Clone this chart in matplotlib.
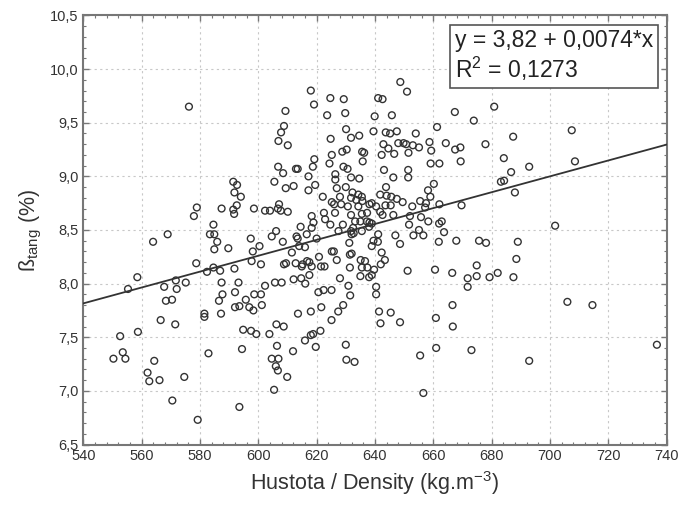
import matplotlib
matplotlib.use("Agg")
import matplotlib.pyplot as plt
from matplotlib.ticker import MultipleLocator, FuncFormatter

plt.rcParams['font.family'] = ['Liberation Sans', 'DejaVu Sans']
plt.rcParams['mathtext.fontset'] = 'custom'
plt.rcParams['mathtext.rm'] = 'Liberation Sans'
plt.rcParams['mathtext.it'] = 'Liberation Sans:italic'

# density (kg.m-3) and tangential shrinkage (%)
density = [
    576.2,
    618.0, 624.7, 629.3, 619.1, 609.3, 623.6, 629.8, 608.8, 607.8, 630.1,
    606.9, 610.1, 624.8, 631.8, 634.6, 625.2, 628.8, 630.3, 635.6, 636.3,
    639.9, 639.5, 648.7, 651.0, 641.1, 642.6, 645.8, 643.7, 645.2, 647.5,
    654.0, 661.3, 667.4, 673.9, 680.9, 687.4, 642.9, 644.6, 648.0, 649.8,
    650.7, 653.0, 655.1, 658.7, 659.3, 664.3, 667.5, 669.3, 677.9, 642.3,
    646.6, 651.5,
    707.5,
    578.9, 577.9, 584.6, 583.4, 584.9, 585.9, 584.9, 568.9, 563.9, 578.7,
    584.6, 582.4, 558.5, 555.3, 567.7, 571.7, 572.0, 575.1, 568.3, 570.4,
    581.5, 581.5, 566.5, 571.5, 558.7, 552.6, 553.5, 550.3, 554.4, 564.3,
    562.0, 562.6, 566.1, 574.6, 582.9, 570.5, 579.2,
    586.5, 587.2, 592.0, 593.5, 595.7, 596.9, 598.3, 601.2, 594.8, 597.5,
    599.3, 594.4, 603.8, 606.2, 608.7, 606.4, 604.6, 606.9, 606.0, 606.7,
    609.9, 611.9, 605.4, 593.5, 613.6, 618.0, 621.6, 625.1, 627.4, 629.1,
    616.0, 618.0, 618.8, 621.3, 619.7, 630.0, 630.2, 633.0,
    641.4, 645.4, 641.9, 648.6, 660.9, 666.6, 666.7, 655.5, 661.0, 673.1,
    656.6,
    706.0, 714.6, 736.7, 692.9,
    692.9, 708.6, 701.8,
    684.2, 669.4, 659.1, 662.1, 643.1, 651.4, 651.4, 646.3, 686.7, 683.2,
    684.3, 688.0, 660.2, 658.2, 643.8, 641.8, 644.0, 645.6, 647.5, 649.5,
    659.0, 657.5, 655.5, 652.8, 662.1, 669.7, 638.9, 640.4, 641.8, 643.6,
    645.4, 642.6, 646.3, 652.0, 655.8, 657.2, 658.3, 651.7, 662.0, 662.9,
    663.7, 655.1, 653.2, 656.6, 647.0, 648.6, 641.1, 638.9, 661.9, 667.9,
    675.7, 678.1, 689.0, 688.5, 639.5, 641.0, 638.9, 642.3, 643.4, 642.0,
    639.7, 651.2, 660.6, 666.5, 674.9, 671.8, 674.9, 679.3, 682.1, 687.5,
    671.8, 640.4, 640.4,
    619.2, 606.8, 608.5, 612.9, 613.5, 618.7, 624.4, 629.2, 630.6, 635.8,
    617.2, 605.5, 609.4, 612.1, 619.5, 617.2, 626.4, 626.4, 631.8, 634.6,
    626.9, 630.0, 632.3, 634.3, 635.5, 622.1, 625.2, 626.0, 628.0, 628.4,
    631.8, 633.6, 635.7, 638.1, 630.7, 634.3, 626.3, 622.5, 631.8, 635.5,
    637.3, 637.2, 635.0, 633.2, 629.0, 632.5, 638.1, 627.5, 631.8, 632.7,
    635.5, 638.0, 631.2, 632.0, 591.4, 592.7, 591.8, 594.0, 592.6, 591.4,
    591.7, 587.4, 598.5, 602.3, 604.0, 607.1, 606.7, 607.7, 610.1, 618.3,
    618.9, 622.9, 624.7, 614.5, 618.3, 606.1, 604.6, 608.4, 613.1, 613.5,
    616.6, 620.0, 614.0, 616.0, 611.5, 597.4, 600.4, 598.1, 589.7, 586.9,
    591.8, 597.7, 600.9, 608.8, 609.5, 612.8, 615.2, 616.7, 617.5, 618.3,
    620.8, 621.5, 622.7, 625.2, 625.9, 626.9, 631.4, 632.0, 631.4, 635.1,
    636.6, 635.5, 637.4, 638.9, 638.0, 635.0, 628.0, 630.9, 631.5, 625.1,
    622.4, 620.6, 616.1, 614.7, 612.1, 608.0, 605.7, 602.3, 600.9, 598.6,
    592.0, 587.4, 587.7, 593.2, 617.5, 614.9,
]
beta = [
    9.65,
    9.80, 9.73, 9.72, 9.67, 9.61, 9.57, 9.59, 9.47, 9.41, 9.44,
    9.33, 9.29, 9.35, 9.36, 9.38, 9.20, 9.23, 9.25, 9.23, 9.22,
    9.56, 9.42, 9.88, 9.79, 9.73, 9.72, 9.57, 9.41, 9.40, 9.42,
    9.40, 9.46, 9.60, 9.52, 9.65, 9.37, 9.30, 9.26, 9.31, 9.31,
    9.30, 9.29, 9.27, 9.32, 9.24, 9.31, 9.25, 9.27, 9.30, 9.20,
    9.21, 9.22,
    9.43,
    8.71, 8.63, 8.55, 8.46, 8.46, 8.39, 8.32, 8.46, 8.39, 8.19,
    8.15, 8.11, 8.06, 7.95, 7.97, 8.03, 7.95, 8.01, 7.84, 7.85,
    7.72, 7.69, 7.66, 7.62, 7.55, 7.51, 7.36, 7.30, 7.30, 7.28,
    7.17, 7.09, 7.10, 7.13, 7.35, 6.91, 6.73,
    7.84, 7.72, 7.78, 7.79, 7.85, 7.78, 7.75, 7.80, 7.57, 7.56,
    7.53, 7.39, 7.53, 7.62, 7.60, 7.42, 7.30, 7.30, 7.23, 7.19,
    7.13, 7.37, 7.01, 6.85, 7.72, 7.74, 7.78, 7.66, 7.74, 7.80,
    7.47, 7.52, 7.53, 7.56, 7.41, 7.43, 7.29, 7.27,
    7.74, 7.73, 7.63, 7.64, 7.68, 7.80, 7.60, 7.33, 7.40, 7.38,
    6.98,
    7.83, 7.80, 7.43, 7.28,
    9.09, 9.14, 8.54,
    9.17, 9.14, 9.12, 9.12, 9.06, 9.06, 8.99, 8.99, 9.04, 8.95,
    8.96, 8.85, 8.93, 8.87, 8.90, 8.83, 8.82, 8.81, 8.79, 8.76,
    8.81, 8.75, 8.77, 8.72, 8.74, 8.73, 8.75, 8.72, 8.67, 8.73,
    8.73, 8.64, 8.64, 8.63, 8.62, 8.71, 8.58, 8.55, 8.56, 8.58,
    8.48, 8.50, 8.45, 8.45, 8.45, 8.37, 8.46, 8.56, 8.39, 8.40,
    8.40, 8.38, 8.39, 8.23, 8.40, 8.39, 8.35, 8.29, 8.22, 8.18,
    8.13, 8.12, 8.13, 8.10, 8.17, 8.05, 8.07, 8.06, 8.10, 8.06,
    7.97, 7.97, 7.90,
    9.16, 9.09, 9.03, 9.07, 9.07, 9.09, 9.12, 9.09, 9.07, 9.14,
    9.00, 8.95, 8.89, 8.91, 8.92, 8.87, 9.02, 8.97, 8.99, 8.98,
    8.89, 8.90, 8.85, 8.83, 8.81, 8.81, 8.76, 8.74, 8.81, 8.74,
    8.80, 8.78, 8.77, 8.74, 8.72, 8.72, 8.66, 8.66, 8.64, 8.65,
    8.66, 8.58, 8.58, 8.58, 8.55, 8.52, 8.57, 8.49, 8.49, 8.47,
    8.49, 8.53, 8.38, 8.46, 8.95, 8.92, 8.85, 8.81, 8.73, 8.69,
    8.65, 8.70, 8.70, 8.68, 8.68, 8.74, 8.70, 8.68, 8.67, 8.63,
    8.57, 8.60, 8.55, 8.53, 8.52, 8.49, 8.44, 8.39, 8.44, 8.42,
    8.46, 8.42, 8.35, 8.34, 8.29, 8.42, 8.35, 8.30, 8.33, 8.12,
    8.14, 8.21, 8.18, 8.18, 8.19, 8.19, 8.18, 8.21, 8.20, 8.16,
    8.25, 8.16, 8.16, 8.30, 8.30, 8.22, 8.27, 8.28, 8.15, 8.22,
    8.21, 8.15, 8.15, 8.08, 8.06, 8.07, 8.05, 7.98, 7.89, 7.94,
    7.94, 7.92, 8.00, 8.05, 8.04, 8.01, 8.01, 7.98, 7.90, 7.90,
    7.92, 8.01, 7.90, 8.01, 8.08, 8.16,
]

# regression from the label
b0, b1 = 3.82, 0.0074
x_fit = [540, 740]
y_fit = [b0 + b1 * v for v in x_fit]

fig = plt.figure(figsize=(6.95, 5.08), dpi=100)
ax = fig.add_axes([0.120, 0.125, 0.839, 0.8445])

ax.scatter(density, beta, s=24, facecolors='none', edgecolors='#333333',
           linewidths=1.0, zorder=3)
ax.plot(x_fit, y_fit, color='#333333', lw=1.3, zorder=4)

ax.set_xlim(540, 740)
ax.set_ylim(6.5, 10.5)
ax.xaxis.set_major_locator(MultipleLocator(20))
ax.xaxis.set_minor_locator(MultipleLocator(4))
ax.yaxis.set_major_locator(MultipleLocator(0.5))
ax.yaxis.set_minor_locator(MultipleLocator(0.1))
ax.yaxis.set_major_formatter(FuncFormatter(lambda v, p: ('%.1f' % v).replace('.', ',')))
ax.grid(True, which='major', ls=(0, (2, 3)), color='#c8c8c8', lw=0.8, zorder=0)

ax.tick_params(which='both', direction='in', top=True, right=True,
               color='#777777', labelsize=10.5, labelcolor='#333333')
ax.tick_params(which='major', length=4, width=1)
ax.tick_params(which='minor', length=2.5, width=0.8)
for s in ax.spines.values():
    s.set_color('#777777')
    s.set_linewidth(1.5)

ax.set_xlabel('Hustota / Density (kg.m$^{-3}$)', fontsize=15.5, color='#333333')
ax.set_ylabel('ß$_{\\rm tang}$ (%)', fontsize=15.5, color='#333333')

ax.text(0.637, 0.905, 'y = 3,82 + 0,0074*x\nR$^2$ = 0,1273', transform=ax.transAxes,
        fontsize=16.5, color='#222222', va='center', ha='left', linespacing=1.1,
        bbox=dict(boxstyle='square,pad=0.22', fc='white', ec='#555555', lw=1.2),
        zorder=5)

fig.savefig('out.png', dpi=100)
